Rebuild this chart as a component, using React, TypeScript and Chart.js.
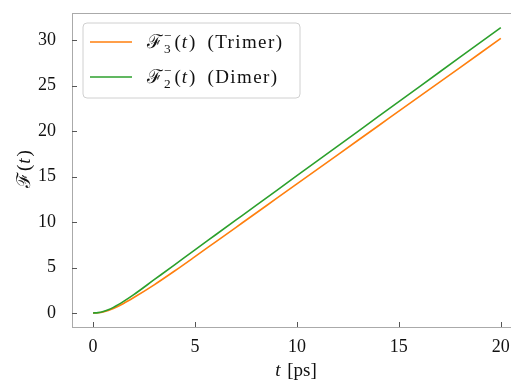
import React, { useEffect, useRef } from "react";
import { Chart, registerables } from "chart.js";

Chart.register(...registerables);

const times = [0, 0.25, 0.5, 0.75, 1, 1.5, 2, 3, 4, 5, 6, 7, 8, 9, 10, 11, 12, 13, 14, 15, 16, 17, 18, 19, 20];
const trimer = [0, 0.03, 0.12, 0.28, 0.5, 1.05, 1.7, 3.1, 4.62, 6.2, 7.8, 9.4, 11.0, 12.6, 14.2, 15.8, 17.4, 19.0, 20.6, 22.2, 23.8, 25.4, 27.0, 28.6, 30.2];
const dimer = [0, 0.04, 0.16, 0.36, 0.62, 1.28, 2.02, 3.66, 5.3, 6.95, 8.58, 10.21, 11.84, 13.47, 15.1, 16.73, 18.36, 19.99, 21.62, 23.25, 24.88, 26.51, 28.14, 29.77, 31.4];
const xTicks = [0, 5, 10, 15, 20];
const yTicks = [0, 5, 10, 15, 20, 25, 30];
const seriesNames = ["(Trimer)", "(Dimer)"];
const seriesSubs = ["3", "2"];
const colors = ["#ff7f0e", "#2ca02c"];

const SERIF = "'Liberation Serif', 'DejaVu Serif', serif";

function drawRich(ctx: CanvasRenderingContext2D, x: number, y: number, sub: string | null, size: number) {
  ctx.textBaseline = "alphabetic";
  ctx.textAlign = "left";
  ctx.font = `${size}px ${SERIF}`;
  ctx.fillText("ℱ", x, y);
  x += ctx.measureText("ℱ").width + 1;
  if (sub) {
    const s = size * 0.7;
    ctx.font = `${s}px ${SERIF}`;
    ctx.fillText("−", x, y - size * 0.42);
    ctx.fillText(sub, x, y + size * 0.27);
    x += Math.max(ctx.measureText("−").width, ctx.measureText(sub).width) + 3;
  }
  ctx.font = `${size}px ${SERIF}`;
  ctx.fillText("(", x, y);
  x += ctx.measureText("(").width + 1;
  ctx.font = `italic ${size}px ${SERIF}`;
  ctx.fillText("t", x, y);
  x += ctx.measureText("t").width + 2;
  ctx.font = `${size}px ${SERIF}`;
  ctx.fillText(")", x, y);
  x += ctx.measureText(")").width;
  return x;
}

const decor = {
  id: "decor",
  afterDraw(chart: any) {
    const ctx: CanvasRenderingContext2D = chart.ctx;
    const a = chart.chartArea;
    const xs = chart.scales.x;
    const ys = chart.scales.y;
    ctx.save();
    // top spine
    ctx.strokeStyle = "#aaaaaa";
    ctx.lineWidth = 1;
    ctx.beginPath();
    ctx.moveTo(a.left, a.top + 0.5);
    ctx.lineTo(a.right, a.top + 0.5);
    ctx.stroke();
    // inward ticks
    ctx.strokeStyle = "#555555";
    for (const v of xTicks) {
      const px = Math.round(xs.getPixelForValue(v)) + 0.5;
      ctx.beginPath();
      ctx.moveTo(px, a.bottom);
      ctx.lineTo(px, a.bottom - 5);
      ctx.stroke();
    }
    for (const v of yTicks) {
      const py = Math.round(ys.getPixelForValue(v)) + 0.5;
      ctx.beginPath();
      ctx.moveTo(a.left, py);
      ctx.lineTo(a.left + 5, py);
      ctx.stroke();
    }
    // legend
    const lx = a.left + 11, ly = a.top + 10, lw = 217, lh = 75, r = 4;
    ctx.fillStyle = "rgba(255,255,255,0.8)";
    ctx.strokeStyle = "#d0d0d0";
    ctx.beginPath();
    ctx.moveTo(lx + r, ly);
    ctx.arcTo(lx + lw, ly, lx + lw, ly + lh, r);
    ctx.arcTo(lx + lw, ly + lh, lx, ly + lh, r);
    ctx.arcTo(lx, ly + lh, lx, ly, r);
    ctx.arcTo(lx, ly, lx + lw, ly, r);
    ctx.closePath();
    ctx.fill();
    ctx.stroke();
    for (let i = 0; i < 2; i++) {
      const cy = ly + 19 + i * 35;
      ctx.strokeStyle = colors[i];
      ctx.lineWidth = 1.5;
      ctx.beginPath();
      ctx.moveTo(lx + 7, cy);
      ctx.lineTo(lx + 49, cy);
      ctx.stroke();
      ctx.fillStyle = "#111111";
      const ex = drawRich(ctx, lx + 64, cy + 6, seriesSubs[i], 19);
      ctx.font = `19px ${SERIF}`;
      (ctx as any).letterSpacing = "1.4px";
      ctx.fillText(seriesNames[i], ex + 12, cy + 6);
      (ctx as any).letterSpacing = "0px";
    }
    // x title
    ctx.fillStyle = "#111111";
    ctx.font = `italic 19px ${SERIF}`;
    const tW = ctx.measureText("t").width;
    ctx.font = `19px ${SERIF}`;
    const restW = ctx.measureText(" [ps]").width + 2;
    const cx = 296;
    const sx = cx - (tW + restW) / 2;
    ctx.font = `italic 19px ${SERIF}`;
    ctx.textAlign = "left";
    ctx.textBaseline = "alphabetic";
    ctx.fillText("t", sx, 376);
    ctx.font = `19px ${SERIF}`;
    ctx.fillText(" [ps]", sx + tW + 2, 376);
    // y title
    ctx.translate(30, 170);
    ctx.rotate(-Math.PI / 2);
    drawRich(ctx, -18, 0, null, 19);
    ctx.restore();
  },
};

export default function App() {
  const ref = useRef<HTMLCanvasElement>(null);
  useEffect(() => {
    document.body.style.margin = "0";
    const chart = new Chart(ref.current!, {
      type: "line",
      data: {
        datasets: [
          {
            label: "Trimer",
            data: times.map((t, i) => ({ x: t, y: trimer[i] })),
            borderColor: colors[0],
            borderWidth: 1.6,
            pointRadius: 0,
            cubicInterpolationMode: "monotone",
            order: 2,
          },
          {
            label: "Dimer",
            data: times.map((t, i) => ({ x: t, y: dimer[i] })),
            borderColor: colors[1],
            borderWidth: 1.6,
            pointRadius: 0,
            cubicInterpolationMode: "monotone",
            order: 1,
          },
        ],
      },
      options: {
        responsive: false,
        animation: false,
        layout: { padding: { top: 13, right: 0, left: 0, bottom: 0 } },
        plugins: { legend: { display: false }, tooltip: { enabled: false } },
        scales: {
          x: {
            type: "linear",
            min: -1.03,
            max: 20.5,
            grid: { display: false },
            border: { display: true, color: "#aaaaaa", width: 1 },
            afterBuildTicks: (s: any) => { s.ticks = xTicks.map((v) => ({ value: v })); },
            afterFit: (s: any) => { s.height = 55; s.paddingLeft = 0; s.paddingRight = 0; },
            ticks: { color: "#111111", font: { family: SERIF, size: 18 }, padding: 1, maxRotation: 0 },
          },
          y: {
            type: "linear",
            min: -1.54,
            max: 33.0,
            grid: { display: false },
            border: { display: true, color: "#aaaaaa", width: 1 },
            afterBuildTicks: (s: any) => { s.ticks = yTicks.map((v) => ({ value: v })); },
            afterFit: (s: any) => { s.width = 72; s.paddingTop = 0; s.paddingBottom = 0; },
            ticks: { color: "#111111", font: { family: SERIF, size: 18 }, padding: 8 },
          },
        },
      },
      plugins: [decor],
    });
    return () => chart.destroy();
  }, []);
  return (
    <div style={{ position: "fixed", left: 0, top: 0, width: 511, height: 382, background: "#fff" }}>
      <canvas ref={ref} width={511} height={382} />
    </div>
  );
}
